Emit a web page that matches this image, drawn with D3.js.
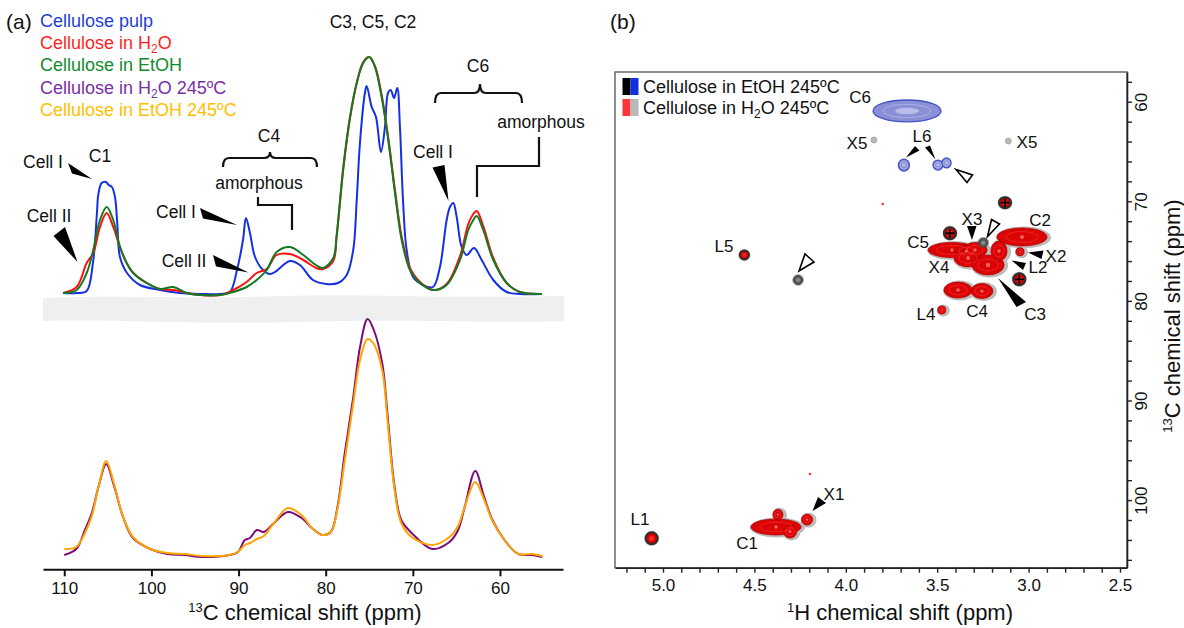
<!DOCTYPE html>
<html><head><meta charset="utf-8">
<script src="https://cdn.jsdelivr.net/npm/d3@7"></script>
<style>
body{margin:0;background:#fff;}
svg{display:block;font-family:"Liberation Sans",Arial,Helvetica,sans-serif;}
</style></head><body>
<svg id="chart" width="1184" height="628"></svg>
<script>
// ================= DATA : panel (a) 13C spectra =================
const carbonTicks = [110, 100, 90, 80, 70, 60];

// Cellulose pulp (native)
const pulpPpm = [110.15,108.58,107.43,106.71,106.25,106.10,105.71,105.21,104.90,104.53,
  104.18,103.92,103.61,102.80,101.31,99.02,96.72,94.43,92.13,90.99,
  90.18,89.49,89.15,88.69,88.11,87.20,86.39,85.82,84.10,82.95,
  81.46,79.89,78.59,77.59,76.84,76.44,76.07,75.50,75.30,74.72,
  74.23,73.66,73.20,72.85,72.54,72.16,71.79,71.48,71.13,70.71,
  69.98,68.84,67.69,66.89,66.12,65.74,65.36,64.97,64.40,63.82,
  62.98,62.10,60.77,59.23,57.71,55.21];
const pulpInt = [3,3,5,33,83,101,113,114,111,109,
  99,73,39,23,11,6,3,2,2,4,
  26,56,78,63,39,26,22,24,35,31,
  16,12,13,21,46,96,153,203,210,189,
  179,144,169,203,206,198,208,169,96,46,
  19,11,9,29,76,89,93,79,49,41,
  48,36,16,4,2,2];

// Cellulose in H2O / in EtOH (shared ppm grid)
const solventPpm = [110.15,108.58,107.43,106.67,105.90,105.13,104.38,103.61,102.84,102.08,
  100.54,99.02,97.49,95.95,94.43,92.13,90.61,89.07,87.92,86.77,
  85.63,84.10,82.57,81.11,80.31,79.13,78.74,77.98,77.21,76.44,
  75.69,75.00,74.35,73.58,72.82,72.05,71.28,70.33,69.18,67.65,
  66.12,64.59,63.64,63.06,62.67,61.92,60.77,59.23,57.71,55.21];
const h2oInt = [3,9,33,43,69,83,69,49,33,23,
  13,7,6,3,1,1,6,14,23,27,
  41,42,36,28,27,35,60,127,178,213,
  234,239,230,201,158,106,59,28,14,6,
  12,40,72,82,85,70,38,13,4,2];
const etohInt = [3,6,23,46,76,89,76,49,33,23,
  13,7,9,3,1,1,4,9,16,26,
  44,49,41,31,28,38,61,129,179,213,
  233,239,229,199,156,103,56,26,13,6,
  11,36,66,76,80,66,36,13,4,2];

// Cellulose in H2O 245 °C / in EtOH 245 °C (shared ppm grid)
const hotPpm = [110.00,108.62,107.63,106.84,106.05,105.19,104.28,103.29,102.11,100.13,
  98.16,96.19,94.21,91.06,90.07,89.28,88.69,87.90,87.11,85.93,
  84.35,82.77,81.59,80.40,79.42,78.63,77.84,76.85,76.06,75.19,
  74.48,73.50,72.90,72.11,71.33,70.14,67.77,65.80,64.81,64.02,
  62.84,61.85,60.87,59.49,57.91,56.33,55.15];
const h2o245Int = [2,8,27,44,71,93,71,41,19,8,
  3,2,0,2,5,17,19,27,25,34,
  45,39,29,22,25,51,102,159,210,238,
  227,193,142,71,37,24,8,15,27,51,
  86,61,37,17,3,2,0];
const etoh245Int = [8,10,24,41,71,96,73,41,20,8,
  4,3,1,2,5,12,14,18,21,34,
  49,42,29,22,25,49,95,153,197,218,
  213,186,136,68,34,20,12,20,31,51,
  75,58,36,17,3,3,1];

const legendA = ["Cellulose pulp","Cellulose in H_2O","Cellulose in EtOH","Cellulose in H_2O 245ºC","Cellulose in EtOH 245ºC"];

// ================= DATA : panel (b) HSQC =================
const protonTicks = [5.0, 4.5, 4.0, 3.5, 3.0, 2.5];
const carbonTicksB = [60, 70, 80, 90, 100];
// [name, 1H ppm, 13C ppm, half-width 1H, half-width 13C, kind]
const crossPeaks = [
  ["C6", 3.665, 60.93, 0.186, 1.10, "blue"],
  ["L6a", 3.682, 66.36, 0.030, 0.60, "blue"],
  ["L6b", 3.496, 66.36, 0.027, 0.50, "blue"],
  ["L6c", 3.449, 66.15, 0.025, 0.50, "blue"],
  ["X5a", 3.846, 63.85, 0.016, 0.30, "gray"],
  ["X5b", 3.111, 63.95, 0.016, 0.30, "gray"],
  ["n1", 3.798, 70.27, 0.007, 0.12, "weak"],
  ["n2", 4.196, 97.37, 0.007, 0.12, "weak"],
  ["L5", 4.555, 75.39, 0.025, 0.45, "dual"],
  ["u1", 4.261, 77.90, 0.025, 0.45, "dark"],
  ["p1", 3.129, 70.14, 0.033, 0.55, "plus"],
  ["p2", 3.430, 73.21, 0.033, 0.60, "plus"],
  ["p3", 3.051, 77.83, 0.033, 0.60, "plus"],
  ["X3", 3.248, 74.16, 0.025, 0.45, "dark"],
  ["C2", 3.036, 73.58, 0.137, 0.90, "red"],
  ["C5", 3.419, 74.89, 0.131, 0.75, "red"],
  ["C5b", 3.340, 75.00, 0.060, 0.65, "red"],
  ["C3a", 3.331, 75.69, 0.077, 0.90, "red"],
  ["C3b", 3.222, 76.39, 0.088, 1.00, "red"],
  ["C3c", 3.162, 74.99, 0.044, 1.00, "red"],
  ["C3d", 3.293, 74.89, 0.066, 0.75, "red"],
  ["X2", 3.047, 75.06, 0.022, 0.40, "red"],
  ["C4a", 3.386, 78.91, 0.077, 0.80, "red"],
  ["C4b", 3.255, 79.01, 0.060, 0.75, "red"],
  ["L4", 3.475, 80.91, 0.022, 0.40, "red"],
  ["C1a", 4.382, 102.70, 0.137, 0.80, "red"],
  ["C1b", 4.371, 101.46, 0.027, 0.55, "red"],
  ["C1c", 4.305, 103.16, 0.036, 0.65, "red"],
  ["X1", 4.212, 101.96, 0.030, 0.55, "red"],
  ["L1", 5.062, 103.84, 0.033, 0.60, "dual"]
];
const legendB = ["Cellulose in EtOH 245ºC", "Cellulose in H_2O 245ºC"];

// ================= DRAWING =================
const svg = d3.select("#chart");

function rich(sel, str, small) {
  const parts = str.split(/(_\d+|\^\d+)/);
  let shift = 0;
  parts.forEach(p => {
    if (!p) return;
    if (p[0] === "_" || p[0] === "^") {
      const d = p[0] === "_" ? 4 : -8;
      sel.append("tspan").attr("dy", d - shift).attr("font-size", small).text(p.slice(1));
      shift = d;
    } else {
      const t = sel.append("tspan").text(p);
      if (shift) { t.attr("dy", -shift); shift = 0; }
    }
  });
}

// ---------- panel (a) ----------
const xA = d3.scaleLinear().domain([112.44, 52.77]).range([43, 563]);
const yTop = d3.scaleLinear().domain([0, 250]).range([296, 46]);
const yBot = d3.scaleLinear().domain([0, 250]).range([557, 307]);

svg.append("path")
  .attr("d", "M43,298 C120,295 200,299 280,296 S440,299 564,296 L564,321 C480,323 400,319 300,322 S120,319 43,321 Z")
  .attr("fill", "#efefef");

function spectrum(ppm, vals, y, color) {
  const gen = d3.line().curve(d3.curveCatmullRom.alpha(0.5))
    .x((d, i) => xA(ppm[i])).y((d, i) => y(vals[i]));
  svg.append("path").attr("d", gen(ppm)).attr("fill", "none")
    .attr("stroke", color).attr("stroke-width", 2).attr("stroke-linejoin", "round");
}
spectrum(pulpPpm, pulpInt, yTop, "#1530e0");
spectrum(solventPpm, h2oInt, yTop, "#ff1010");
spectrum(solventPpm, etohInt, yTop, "#117a22");
spectrum(hotPpm, h2o245Int, yBot, "#7b0b7b");
spectrum(hotPpm, etoh245Int, yBot, "#ffa400");

const axA = d3.axisBottom(xA).tickValues(carbonTicks).tickSize(7).tickSizeOuter(0).tickPadding(6).tickFormat(d3.format("d"));
const gA = svg.append("g").attr("transform", "translate(0,569.3)").call(axA);
gA.select(".domain").attr("stroke", "#111").attr("stroke-width", 2);
gA.selectAll(".tick line").attr("stroke", "#111").attr("stroke-width", 2);
gA.selectAll(".tick text").attr("font-size", 17).attr("fill", "#111").attr("font-family", null);

const tA = svg.append("text").attr("x", 305).attr("y", 620).attr("text-anchor", "middle").attr("font-size", 22).attr("fill", "#111");
rich(tA, "^13C chemical shift (ppm)", 13);

svg.append("text").attr("x", 6).attr("y", 29).attr("font-size", 21).attr("fill", "#111").text("(a)");

const legColorsA = ["#1f3fd8", "#ff1f1f", "#138a2e", "#7a2fa5", "#ffbf00"];
legendA.forEach((s, i) => {
  const t = svg.append("text").attr("x", 40).attr("y", 26.5 + i * 22.4).attr("font-size", 18).attr("fill", legColorsA[i]);
  rich(t, s, 12);
});

// annotations (a)
const annA = [
  ["C3, C5, C2", 373, 28], ["C6", 478, 72], ["amorphous", 541, 128], ["Cell I", 433, 158],
  ["C4", 269, 142], ["amorphous", 259, 189], ["Cell I", 176, 218], ["Cell II", 184, 267],
  ["C1", 100, 162], ["Cell I", 43, 168], ["Cell II", 49, 222]
];
annA.forEach(([s, x, y]) => svg.append("text").attr("x", x).attr("y", y).attr("text-anchor", "middle")
  .attr("font-size", 17.5).attr("fill", "#111").text(s));

const bracketsA = [
  "M223,167 Q223,158 229,158 H264 Q270,158 270,152 Q270,158 276,158 H311 Q317,158 317,167",
  "M435,103 Q435,93 441,93 H474 Q480,93 480,84 Q480,93 486,93 H516 Q522,93 522,103",
  "M258,197 V205 H292 V230",
  "M539,137 V166 H477 V197"
];
bracketsA.forEach(d => svg.append("path").attr("d", d).attr("fill", "none").attr("stroke", "#111").attr("stroke-width", 2.2));

const arrowsA = [
  [[68, 163], [72, 173.5], [92, 179]],
  [[53.5, 236], [65, 227], [77.5, 262]],
  [[200, 208], [203, 218.5], [237, 225]],
  [[213, 255], [216, 266.5], [248.5, 272.5]],
  [[432.5, 167.5], [444.5, 165], [448.5, 201]]
];
arrowsA.forEach(p => svg.append("polygon").attr("points", p.map(q => q.join(",")).join(" ")).attr("fill", "#000"));

// ---------- panel (b) ----------
const L = 615, R = 1127, T = 72, B = 567.7;
const xB = d3.scaleLinear().domain([5.2626, 2.4617]).range([L, R]);
const yB = d3.scaleLinear().domain([57.018, 106.787]).range([T, B]);

svg.append("text").attr("x", 610).attr("y", 29).attr("font-size", 21).attr("fill", "#111").text("(b)");

svg.append("rect").attr("x", L).attr("y", T).attr("width", R - L).attr("height", B - T)
  .attr("fill", "none").attr("stroke", "#6a6a6a").attr("stroke-width", 1.5);

svg.append("defs").append("clipPath").attr("id", "clipB").append("rect")
  .attr("x", L).attr("y", T).attr("width", R - L).attr("height", B - T);
const gP = svg.append("g").attr("clip-path", "url(#clipB)");
const gHalo = gP.append("g"), gFill = gP.append("g"), gTop = gP.append("g");

function ell(g, cx, cy, rx, ry, attrs) {
  const e = g.append("ellipse").attr("cx", cx).attr("cy", cy).attr("rx", Math.max(rx, 0.5)).attr("ry", Math.max(ry, 0.5));
  Object.entries(attrs).forEach(([k, v]) => e.attr(k, v));
  return e;
}
crossPeaks.forEach(([name, h, c, wh, wc, kind]) => {
  const cx = xB(h), cy = yB(c);
  const rx = Math.abs(xB(h - wh) - cx), ry = Math.abs(yB(c + wc) - cy);
  if (kind === "blue") {
    ell(gFill, cx, cy, rx, ry, { fill: "#8a90d6", stroke: "#4452c8", "stroke-width": 1.3 });
    ell(gTop, cx, cy, rx * 0.7, ry * 0.6, { fill: "none", stroke: "#a9aee4", "stroke-width": 1 });
    ell(gTop, cx, cy, rx * 0.35, ry * 0.3, { fill: "#b9bde8", stroke: "none" });
  } else if (kind === "gray") {
    ell(gFill, cx, cy, rx, ry, { fill: "#b9b9b9", stroke: "#a0a0a0", "stroke-width": 0.8 });
  } else if (kind === "weak") {
    ell(gFill, cx, cy, rx, ry, { fill: "#ff3030" });
  } else if (kind === "dark") {
    ell(gHalo, cx, cy, rx + 1.5, ry + 1.5, { fill: "#c4c4c4" });
    ell(gTop, cx, cy, rx, ry, { fill: "#5a5a5a", stroke: "#3a3a3a", "stroke-width": 1 });
    ell(gTop, cx, cy, rx * 0.45, ry * 0.45, { fill: "#8a8a8a" });
  } else if (kind === "dual" || kind === "plus") {
    ell(gHalo, cx, cy, rx + 1.5, ry + 1.5, { fill: "#bdbdbd" });
    ell(gTop, cx, cy, rx, ry, { fill: "#d40000", stroke: "#2e2e2e", "stroke-width": 2 });
    ell(gTop, cx, cy, rx * 0.45, ry * 0.45, { fill: "#ff3a3a", opacity: 0.7 });
    if (kind === "plus") {
      gTop.append("path").attr("d", `M${cx - 4.5},${cy}H${cx + 4.5}M${cx},${cy - 4.5}V${cy + 4.5}`)
        .attr("stroke", "#000").attr("stroke-width", 1.8);
    }
  } else {
    ell(gHalo, cx + 1.5, cy + 0.5, rx + 2.5, ry + 2, { fill: "#bcbcbc" });
    ell(gFill, cx, cy, rx, ry, { fill: "#dc0505", stroke: "#b80000", "stroke-width": 0.8 });
    ell(gTop, cx, cy, rx * 0.65, ry * 0.6, { fill: "none", stroke: "#ff4a4a", "stroke-width": 0.8, opacity: 0.55 });
    ell(gTop, cx, cy, Math.min(rx, ry) * 0.22, Math.min(rx, ry) * 0.22, { fill: "#ffb0b0", opacity: 0.55 });
  }
});

// axes (b)
const hTicks = d3.range(25, 53).map(d => d / 10);
const axB = d3.axisBottom(xB).tickValues(hTicks).tickSize(5).tickSizeOuter(0).tickPadding(6)
  .tickFormat(d => protonTicks.some(t => Math.abs(t - d) < 1e-6) ? d3.format(".1f")(d) : "");
const gB = svg.append("g").attr("transform", `translate(0,${B})`).call(axB);
gB.select(".domain").attr("stroke", "#222").attr("stroke-width", 1.6);
gB.selectAll(".tick line").attr("stroke", "#222").attr("stroke-width", 1.4);
gB.selectAll(".tick text").attr("font-size", 17).attr("fill", "#111").attr("font-family", null);

const cTicks = d3.range(58, 107, 2);
const axC = d3.axisRight(yB).tickValues(cTicks).tickSize(5).tickSizeOuter(0)
  .tickFormat(d => carbonTicksB.includes(d) ? String(d) : "");
const gC = svg.append("g").attr("transform", `translate(${R},0)`).call(axC);
gC.select(".domain").attr("stroke", "#222").attr("stroke-width", 1.6);
gC.selectAll(".tick line").attr("stroke", "#222").attr("stroke-width", 1.4);
gC.selectAll(".tick text").attr("font-size", 17).attr("fill", "#111").attr("font-family", null)
  .attr("x", null).attr("dy", null).attr("text-anchor", "middle").attr("transform", "translate(20,0) rotate(-90)");

const tB = svg.append("text").attr("x", 900).attr("y", 620).attr("text-anchor", "middle").attr("font-size", 22).attr("fill", "#111");
rich(tB, "^1H chemical shift (ppm)", 13);
const tC = svg.append("text").attr("transform", "translate(1180,316) rotate(-90)").attr("text-anchor", "middle").attr("font-size", 22).attr("fill", "#111");
rich(tC, "^13C chemical shift (ppm)", 13);

// legend (b)
const swatches = [["#000000", "#1030e0"], ["#ff3535", "#b8b8b8"]];
legendB.forEach((s, i) => {
  const y0 = 78 + i * 21;
  svg.append("rect").attr("x", 622.5).attr("y", y0).attr("width", 8).attr("height", 17).attr("fill", swatches[i][0]);
  svg.append("rect").attr("x", 630.5).attr("y", y0).attr("width", 8).attr("height", 17).attr("fill", swatches[i][1]);
  const t = svg.append("text").attr("x", 643).attr("y", 92.5 + i * 21).attr("font-size", 18).attr("fill", "#111");
  rich(t, s, 12);
});

// annotations (b)
const annB = [
  ["C6", 860, 103], ["X5", 857, 149], ["L6", 922, 142], ["X5", 1027, 148], ["X3", 972, 225],
  ["C2", 1040, 226], ["C5", 918, 248], ["X4", 939, 273], ["X2", 1056, 262], ["L2", 1038, 273],
  ["C4", 977, 317], ["C3", 1035, 320], ["L4", 926, 320], ["L5", 724, 252], ["L1", 640, 525],
  ["C1", 747, 549], ["X1", 834, 500]
];
annB.forEach(([s, x, y]) => svg.append("text").attr("x", x).attr("y", y).attr("text-anchor", "middle")
  .attr("font-size", 17).attr("fill", "#111").text(s));

const arrowsB = [
  [[915, 146], [919.5, 150.5], [906, 157.5]],
  [[925, 147.5], [930, 145.5], [935.5, 159.5]],
  [[967, 226], [976.5, 226], [972, 240]],
  [[1043.5, 250.5], [1041.5, 259], [1028, 252.5]],
  [[1026, 263], [1023, 270], [1011.5, 260.5]],
  [[1016.5, 307], [1026, 302], [998, 278]],
  [[818, 497], [826, 503], [812.5, 511]]
];
arrowsB.forEach(p => svg.append("polygon").attr("points", p.map(q => q.join(",")).join(" ")).attr("fill", "#000"));
const openB = [
  [[956, 169.5], [972.5, 175], [967, 182.5]],
  [[987.5, 236.5], [991.5, 219.5], [999.5, 224]],
  [[799, 271], [805, 254], [814, 262]]
];
openB.forEach(p => svg.append("polygon").attr("points", p.map(q => q.join(",")).join(" "))
  .attr("fill", "#fff").attr("stroke", "#000").attr("stroke-width", 1.6).attr("stroke-linejoin", "miter"));
</script>
</body></html>
